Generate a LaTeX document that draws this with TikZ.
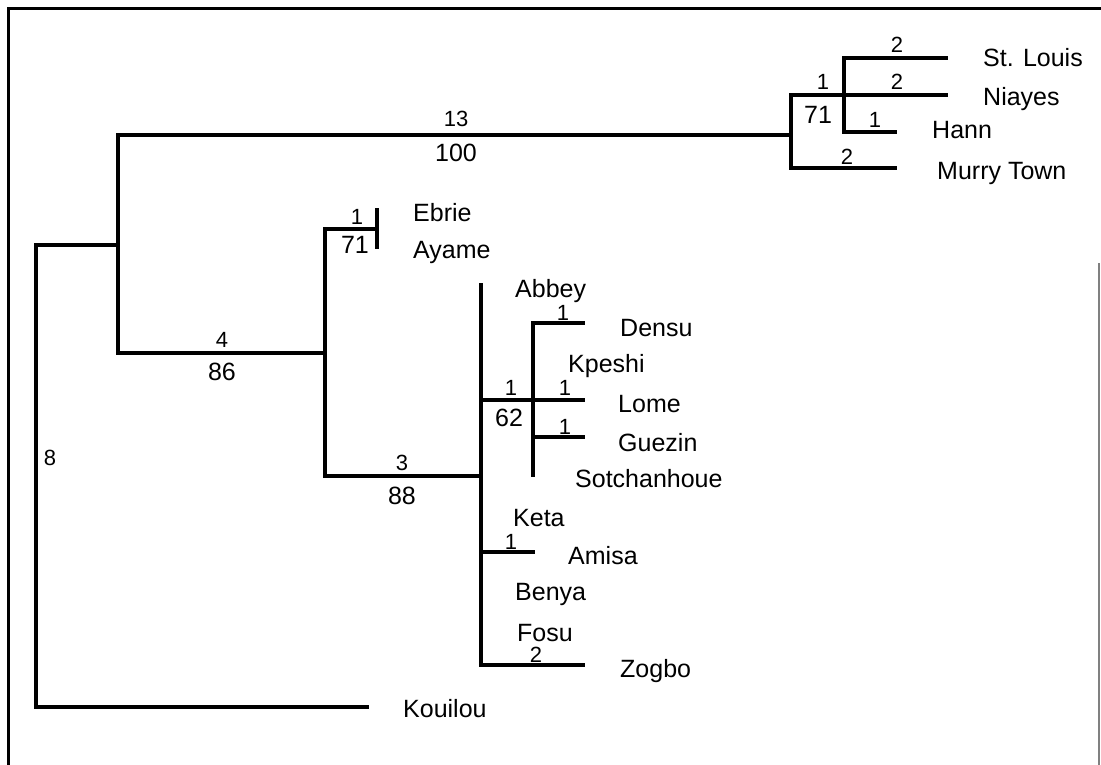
\documentclass[tikz,border=0pt]{standalone}
\usepackage{fontspec}
\setmainfont{Liberation Sans}
\begin{document}
\begin{tikzpicture}[x=1pt,y=-1pt,
  br/.style={line width=3.2pt,line cap=rect},
  leaf/.style={anchor=base west,inner sep=0pt,font=\fontsize{25}{25}\selectfont},
  sn/.style={anchor=center,inner sep=0pt,font=\fontsize{22}{22}\selectfont},
  bs/.style={anchor=center,inner sep=0pt,font=\fontsize{25}{25}\selectfont}]
\useasboundingbox[fill=white] (0,0) rectangle (1101,765);
% frame
\draw[line width=3pt] (8,765) -- (8,9) -- (1101,9);
\draw[line width=1.4pt,gray] (1099,263) -- (1099,765);
% tree coordinates
\coordinate (r1) at (36,245);
\coordinate (r2) at (36,707);
\coordinate (a0) at (118,245);
\coordinate (a1) at (118,135);
\coordinate (a2) at (118,353);
\coordinate (b0) at (791,135);
\coordinate (b1) at (791,95);
\coordinate (b2) at (791,168);
\coordinate (c0) at (844,95);
\coordinate (c1) at (844,58);
\coordinate (c2) at (844,132);
\coordinate (stl) at (946,58);
\coordinate (nia) at (946,95);
\coordinate (han) at (895,132);
\coordinate (mur) at (895,168);
\coordinate (d0) at (325,353);
\coordinate (d1) at (325,229);
\coordinate (d2) at (325,476);
\coordinate (e0) at (377,229);
\coordinate (e1) at (377,210);
\coordinate (e2) at (377,247);
\coordinate (f0) at (481,476);
\coordinate (f1) at (481,285);
\coordinate (f2) at (481,665);
\coordinate (f3) at (481,400);
\coordinate (f4) at (481,552);
\coordinate (g0) at (533,400);
\coordinate (g1) at (533,323);
\coordinate (g2) at (533,475);
\coordinate (g3) at (533,437);
\coordinate (den) at (583,323);
\coordinate (lom) at (583,400);
\coordinate (gue) at (583,437);
\coordinate (ami) at (533,552);
\coordinate (zog) at (583,665);
\coordinate (kou) at (367,707);
% branches
\draw[br] (r1) -- (r2);
\draw[br] (r2) -- (kou);
\draw[br] (r1) -- (a0);
\draw[br] (a1) -- (a2);
\draw[br] (a1) -- (b0);
\draw[br] (b1) -- (b2);
\draw[br] (b1) -- (c0);
\draw[br] (c1) -- (c2);
\draw[br] (c1) -- (stl);
\draw[br] (c0) -- (nia);
\draw[br] (c2) -- (han);
\draw[br] (b2) -- (mur);
\draw[br] (a2) -- (d0);
\draw[br] (d1) -- (d2);
\draw[br] (d1) -- (e0);
\draw[br] (e1) -- (e2);
\draw[br] (d2) -- (f0);
\draw[br] (f1) -- (f2);
\draw[br] (f3) -- (g0);
\draw[br] (g1) -- (g2);
\draw[br] (g1) -- (den);
\draw[br] (g0) -- (lom);
\draw[br] (g3) -- (gue);
\draw[br] (f4) -- (ami);
\draw[br] (f2) -- (zog);
% leaf labels
\node[leaf] (lStLouis) at (983,67) {St. Louis};
\node[leaf] (lNiayes) at (983,106) {Niayes};
\node[leaf] (lHann) at (932,139) {Hann};
\node[leaf] (lMurry) at (937,179) {Murry Town};
\node[leaf] (lEbrie) at (413,222) {Ebrie};
\node[leaf] (lAyame) at (413,258) {Ayame};
\node[leaf] (lAbbey) at (515,297) {Abbey};
\node[leaf] (lDensu) at (620,336) {Densu};
\node[leaf] (lKpeshi) at (568,372) {Kpeshi};
\node[leaf] (lLome) at (618,412) {Lome};
\node[leaf] (lGuezin) at (618,451) {Guezin};
\node[leaf] (lSotch) at (575,487) {Sotchanhoue};
\node[leaf] (lKeta) at (513,526) {Keta};
\node[leaf] (lAmisa) at (568,564) {Amisa};
\node[leaf] (lBenya) at (515,600) {Benya};
\node[leaf] (lFosu) at (517,641) {Fosu};
\node[leaf] (lZogbo) at (620,677) {Zogbo};
\node[leaf] (lKouilou) at (403,717) {Kouilou};
% branch numbers
\node[sn] (n13) at (456,119) {13};
\node[bs] (n100) at (456,153) {100};
\node[sn] (nB1) at (823,82) {1};
\node[bs] (n71a) at (818,115) {71};
\node[sn] (nStl) at (897,45) {2};
\node[sn] (nNia) at (897,82) {2};
\node[sn] (nHan) at (875,120) {1};
\node[sn] (nMur) at (847,157) {2};
\node[sn] (n4) at (222,340) {4};
\node[bs] (n86) at (222,372) {86};
\node[sn] (nE1) at (357,217) {1};
\node[bs] (n71b) at (355,245) {71};
\node[sn] (n3) at (402,463) {3};
\node[bs] (n88) at (402,496) {88};
\node[sn] (nG1) at (511,388) {1};
\node[bs] (n62) at (509,418) {62};
\node[sn] (nDen) at (563,313) {1};
\node[sn] (nLom) at (565,388) {1};
\node[sn] (nGue) at (565,427) {1};
\node[sn] (nAmi) at (511,542) {1};
\node[sn] (nZog) at (536,655) {2};
\node[sn] (n8) at (50,458) {8};
\end{tikzpicture}
\end{document}
